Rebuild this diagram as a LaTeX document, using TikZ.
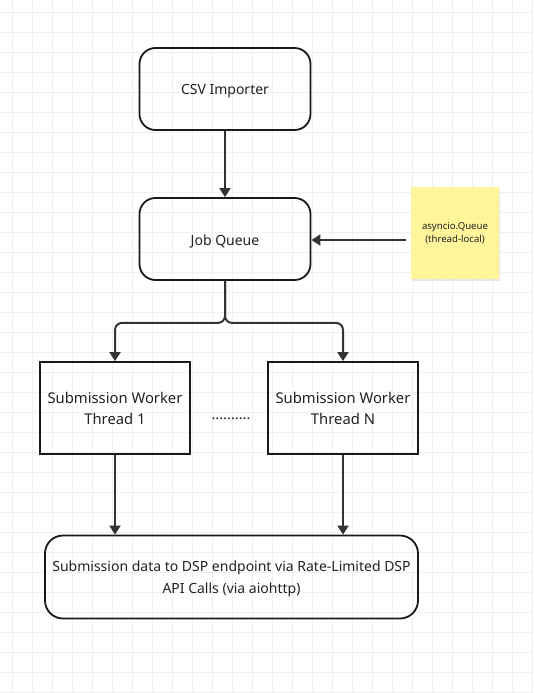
\documentclass[tikz,border=0pt]{standalone}
\usepackage{fontspec}
\setmainfont{Noto Sans}
\usetikzlibrary{arrows.meta,shadows}
\definecolor{gridc}{HTML}{F0F0F0}
\definecolor{linec}{HTML}{333333}
\definecolor{txtc}{HTML}{222222}
\definecolor{notec}{HTML}{FFF59B}
\tikzset{
  x=1pt,y=-1pt,
  rbox/.style={draw=black!90,line width=1.8pt,rounded corners=16pt,text=txtc,font=\fontsize{14}{20}\selectfont,align=center,inner sep=0pt},
  sbox/.style={draw=black!90,line width=1.8pt,text=txtc,font=\fontsize{14.8}{21}\selectfont,align=center,inner sep=0pt},
  note/.style={fill=notec,text=txtc,font=\fontsize{9.6}{13}\selectfont,align=center,inner sep=0pt,drop shadow={opacity=0.18,shadow xshift=1pt,shadow yshift=-2pt}},
  conn/.style={draw=linec,line width=2pt,-{Triangle[width=11pt,length=9pt]}},
  txt/.style={text=txtc,inner sep=0pt,align=center},
}
\begin{document}
\begin{tikzpicture}
\useasboundingbox (0,0) rectangle (533,693);
\fill[white] (0,0) rectangle (533,693);
\foreach \i in {0,...,26} {\draw[gridc,line width=0.6pt] ({12.7+20*\i},0) -- ({12.7+20*\i},693);}
\foreach \i in {0,...,34} {\draw[gridc,line width=0.6pt] (0,{12.5+20*\i}) -- (533,{12.5+20*\i});}

\node[rbox,minimum width=171pt,minimum height=82pt] (csv) at (225,89) {};
\node[txt,font=\fontsize{14}{20}\selectfont] (csvt) at (225,91) {CSV Importer};
\node[rbox,minimum width=171pt,minimum height=82pt] (jq) at (225,239) {};
\node[txt,font=\fontsize{14}{20}\selectfont] (jqt) at (225,242) {Job Queue};
\node[note,minimum width=88pt,minimum height=92pt] (nt) at (455,233) {asyncio.Queue\\(thread-local)};
\node[sbox,minimum width=150pt,minimum height=92pt] (w1) at (115,408) {Submission Worker\\Thread 1};
\node[sbox,minimum width=150pt,minimum height=92pt] (wn) at (343,408) {Submission Worker\\Thread N};
\node[txt,font=\fontsize{14.5}{15}\selectfont] (dots) at (231,419) {..........};
\node[rbox,rounded corners=18pt,minimum width=373pt,minimum height=83pt] (api) at (231.5,577) {};
\node[txt,font=\fontsize{14}{22}\selectfont] (apit) at (231.5,579) {Submission data to DSP endpoint via Rate-Limited DSP\\API Calls (via aiohttp)};

\draw[conn] (csv.south) -- (jq.north);
\coordinate (ntl) at (406,240);
\draw[conn] (ntl) -- (jq.east |- ntl);
\draw[conn,rounded corners=7pt] (jq.south) -- ++(0,42) -| (w1.north);
\draw[conn,rounded corners=7pt] (jq.south) -- ++(0,42) -| (wn.north);
\draw[conn] (w1.south) -- (w1.south |- api.north);
\draw[conn] (wn.south) -- (wn.south |- api.north);
\end{tikzpicture}
\end{document}
